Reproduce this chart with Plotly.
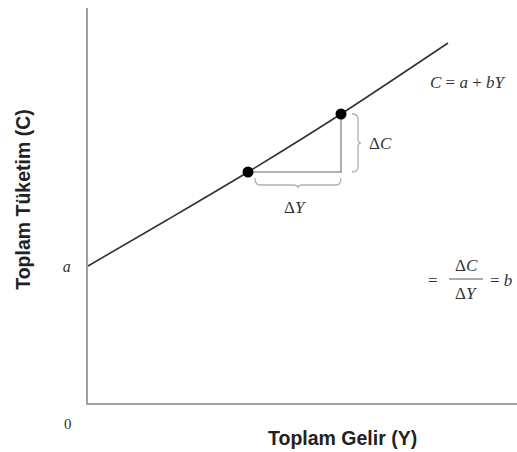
import plotly.graph_objects as go

# Data (axis units)
income = [0, 79, 160, 253, 360]          # Toplam Gelir (Y)
consumption = [137, 183, 231, 289, 360]  # Toplam Tüketim (C)
point_idx = [2, 3]                       # the two marked points
intercept_label = "a"

px_ = [income[i] for i in point_idx]
py_ = [consumption[i] for i in point_idx]

serif = "Liberation Serif, Times New Roman, serif"
sans = "Liberation Sans, Arial, sans-serif"
txt = "#333333"

fig = go.Figure()
# consumption curve
fig.add_trace(go.Scatter(x=income, y=consumption, mode="lines",
                         line=dict(color="#333333", width=1.6, shape="spline", smoothing=0.8),
                         hoverinfo="skip", showlegend=False))
# triangle (ΔY horizontal, ΔC vertical)
fig.add_trace(go.Scatter(x=[px_[0], px_[1], px_[1]], y=[py_[0], py_[0], py_[1]], mode="lines",
                         line=dict(color="#9a9a9a", width=1.6),
                         hoverinfo="skip", showlegend=False))
# points
fig.add_trace(go.Scatter(x=px_, y=py_, mode="markers",
                         marker=dict(color="black", size=11),
                         hoverinfo="skip", showlegend=False))

# braces built from the points
x1, x2 = px_[0] + 7, px_[1]
xm = (x1 + x2) / 2
yt, ym, yb = py_[0] - 6, py_[0] - 13, py_[0] - 16
brace_y = (f"M {x1},{yt} Q {x1},{ym} {x1+5},{ym} L {xm-5},{ym} Q {xm},{ym} {xm},{yb} "
           f"Q {xm},{ym} {xm+5},{ym} L {x2-5},{ym} Q {x2},{ym} {x2},{yt}")
y1, y2 = py_[0], py_[1]
ymid = (y1 + y2) / 2
xl, xc, xr = px_[1] + 11, px_[1] + 17, px_[1] + 20
brace_c = (f"M {xl},{y2} Q {xc},{y2} {xc},{y2-5} L {xc},{ymid+4} Q {xc},{ymid} {xr},{ymid} "
           f"Q {xc},{ymid} {xc},{ymid-4} L {xc},{y1+5} Q {xc},{y1} {xl},{y1}")
for p in (brace_y, brace_c):
    fig.add_shape(type="path", path=p, line=dict(color="#b0b0b0", width=1.3))

# fraction bar
fig.add_shape(type="line", x0=361, x1=395, y0=124, y1=124, line=dict(color="#555", width=1))

ann = [
    dict(x=292, y=260, text="Δ<i>C</i>"),
    dict(x=207, y=196, text="Δ<i>Y</i>"),
    dict(x=380, y=321, text="<i>C</i> = <i>a</i> + <i>bY</i>"),
    dict(x=345, y=123, text="="),
    dict(x=378, y=138, text="Δ<i>C</i>"),
    dict(x=378, y=110, text="Δ<i>Y</i>"),
    dict(x=413, y=123, text="= <i>b</i>"),
]
for a in ann:
    fig.add_annotation(x=a["x"], y=a["y"], text=a["text"], showarrow=False,
                       xanchor="center", yanchor="middle",
                       font=dict(family=serif, size=17, color=txt))

# texts outside the plotting area (paper references)
fig.add_annotation(x=-0.0466, y=-0.053, xref="paper", yref="paper", text="0", showarrow=False,
                   xanchor="center", yanchor="middle",
                   font=dict(family=serif, size=15, color=txt))
fig.add_annotation(x=254, y=-0.0886, xref="x", yref="paper", text="<b>Toplam Gelir (Y)</b>",
                   showarrow=False, xanchor="center", yanchor="middle",
                   font=dict(family=sans, size=19.5, color="#222"))
fig.add_annotation(x=-0.152, y=204, xref="paper", yref="y", text="<b>Toplam Tüketim (C)</b>",
                   showarrow=False, textangle=-90, xanchor="center", yanchor="middle",
                   font=dict(family=sans, size=19.5, color="#222"))

fig.update_xaxes(range=[0, 429], showline=True, linecolor="#a0a0a0", linewidth=2,
                 showgrid=False, zeroline=False, showticklabels=False, ticks="")
fig.update_yaxes(range=[0, 395], showline=True, linecolor="#a0a0a0", linewidth=2,
                 showgrid=False, zeroline=False, ticks="",
                 tickvals=[consumption[0]], ticktext=[f"<i>{intercept_label}</i>"],
                 tickfont=dict(family=serif, size=16, color=txt), ticklabelstandoff=12)

fig.update_layout(width=517, height=452, margin=dict(l=88, r=0, t=8, b=49),
                  plot_bgcolor="white", paper_bgcolor="white", showlegend=False)

fig.write_html("out.html", config={"displayModeBar": False, "staticPlot": True},
               post_script="document.body.style.margin='0';document.body.style.overflow='hidden';")
